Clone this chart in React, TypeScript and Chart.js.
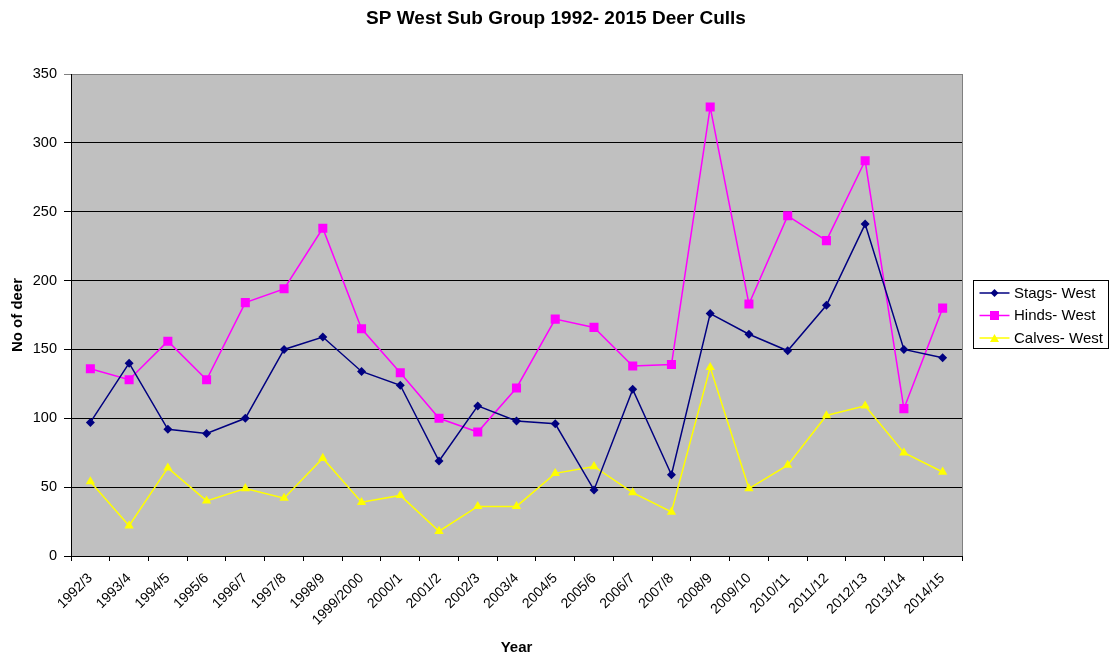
import React, { useEffect, useRef } from "react";
import { Chart, registerables } from "chart.js";

Chart.register(...registerables);

const chartTitle = "SP West Sub Group 1992- 2015 Deer Culls";
const yAxisTitle = "No of deer";
const xAxisTitle = "Year";

const categories = [
  "1992/3", "1993/4", "1994/5", "1995/6", "1996/7", "1997/8", "1998/9",
  "1999/2000", "2000/1", "2001/2", "2002/3", "2003/4", "2004/5", "2005/6",
  "2006/7", "2007/8", "2008/9", "2009/10", "2010/11", "2011/12", "2012/13",
  "2013/14", "2014/15",
];

const stags = [97, 140, 92, 89, 100, 150, 159, 134, 124, 69, 109, 98, 96, 48, 121, 59, 176, 161, 149, 182, 241, 150, 144];
const hinds = [136, 128, 156, 128, 184, 194, 238, 165, 133, 100, 90, 122, 172, 166, 138, 139, 326, 183, 247, 229, 287, 107, 180];
const calves = [54, 22, 64, 40, 49, 42, 71, 39, 44, 18, 36, 36, 60, 65, 46, 32, 137, 49, 66, 102, 109, 75, 61];

const seriesNames = ["Stags- West", "Hinds- West", "Calves- West"];
const seriesColors = ["#000080", "#FF00FF", "#FFFF00"];
const seriesShapes = ["rectRot", "rect", "triangle"];

const yMin = 0;
const yMax = 350;
const yStep = 50;

const FONT = "'Liberation Sans', Arial, Helvetica, sans-serif";

function drawMarker(ctx: CanvasRenderingContext2D, shape: string, x: number, y: number, color: string) {
  ctx.save();
  ctx.fillStyle = color;
  ctx.beginPath();
  if (shape === "rectRot") {
    const r = 4;
    ctx.moveTo(x, y - r);
    ctx.lineTo(x + r, y);
    ctx.lineTo(x, y + r);
    ctx.lineTo(x - r, y);
    ctx.closePath();
  } else if (shape === "rect") {
    const h = 4.5;
    ctx.rect(x - h, y - h, 2 * h, 2 * h);
  } else {
    const w = 4.5;
    const h = 4;
    ctx.moveTo(x, y - h);
    ctx.lineTo(x + w, y + h);
    ctx.lineTo(x - w, y + h);
    ctx.closePath();
  }
  ctx.fill();
  ctx.restore();
}

const plotBackground = {
  id: "plotBackground",
  beforeDraw(chart: any) {
    const { ctx, chartArea } = chart;
    ctx.save();
    ctx.fillStyle = "#C0C0C0";
    ctx.fillRect(chartArea.left, chartArea.top, chartArea.right - chartArea.left, chartArea.bottom - chartArea.top);
    ctx.restore();
  },
  beforeDatasetsDraw(chart: any) {
    const { ctx, chartArea } = chart;
    ctx.save();
    ctx.strokeStyle = "#808080";
    ctx.lineWidth = 1;
    ctx.beginPath();
    const x = Math.round(chartArea.right) + 0.5;
    ctx.moveTo(x, chartArea.top);
    ctx.lineTo(x, chartArea.bottom);
    ctx.stroke();
    ctx.restore();
  },
};

const pageTitle = {
  id: "pageTitle",
  afterDraw(chart: any) {
    const { ctx, width } = chart;
    ctx.save();
    ctx.fillStyle = "#000000";
    ctx.font = `bold 19px ${FONT}`;
    ctx.textAlign = "center";
    ctx.textBaseline = "middle";
    ctx.fillText(chartTitle, width / 2, 19);
    ctx.restore();
  },
};

const boxedLegend = {
  id: "boxedLegend",
  afterDraw(chart: any) {
    const { ctx } = chart;
    const left = 973.5;
    const top = 280.5;
    const width = 135;
    const height = 68;
    ctx.save();
    ctx.fillStyle = "#FFFFFF";
    ctx.fillRect(left, top, width, height);
    ctx.strokeStyle = "#000000";
    ctx.lineWidth = 1;
    ctx.strokeRect(left, top, width, height);
    const rows = [293, 315.5, 338];
    seriesNames.forEach((name, i) => {
      const y = rows[i];
      ctx.strokeStyle = seriesColors[i];
      ctx.lineWidth = 1.5;
      ctx.beginPath();
      ctx.moveTo(979.5, y);
      ctx.lineTo(1009.5, y);
      ctx.stroke();
      drawMarker(ctx, seriesShapes[i], 994.5, y, seriesColors[i]);
      ctx.fillStyle = "#000000";
      ctx.font = `15px ${FONT}`;
      ctx.textAlign = "left";
      ctx.textBaseline = "middle";
      ctx.fillText(name, 1014, y + 0.5);
    });
    ctx.restore();
  },
};

export default function App() {
  const canvasRef = useRef<HTMLCanvasElement | null>(null);

  useEffect(() => {
    if (!canvasRef.current) return;
    Chart.defaults.font.family = FONT;
    Chart.defaults.color = "#000000";

    const makeDataset = (i: number, data: number[]) => ({
      label: seriesNames[i],
      data,
      borderColor: seriesColors[i],
      backgroundColor: seriesColors[i],
      borderWidth: 1.5,
      pointStyle: seriesShapes[i],
      pointRadius: i === 0 ? 4.5 : i === 1 ? 6.4 : 5.4,
      pointHoverRadius: i === 0 ? 4.5 : i === 1 ? 6.4 : 5.4,
      pointBorderWidth: 0,
      pointBackgroundColor: seriesColors[i],
      pointBorderColor: seriesColors[i],
      tension: 0,
      fill: false,
    });

    const chart = new Chart(canvasRef.current, {
      type: "line",
      data: {
        labels: categories,
        datasets: [makeDataset(0, stags), makeDataset(1, hinds), makeDataset(2, calves)],
      },
      options: {
        responsive: false,
        animation: false,
        devicePixelRatio: 1,
        layout: { padding: { top: 74, right: 150, bottom: 0, left: 0 } },
        plugins: {
          legend: { display: false },
          tooltip: { enabled: false },
          title: { display: false },
        },
        scales: {
          x: {
            type: "category",
            offset: true,
            grid: {
              offset: true,
              drawOnChartArea: false,
              drawTicks: true,
              tickLength: 5,
              color: "#000000",
              lineWidth: 1,
            },
            border: { display: true, color: "#000000", width: 1 },
            ticks: {
              autoSkip: false,
              maxRotation: 45,
              minRotation: 45,
              padding: 9,
              color: "#000000",
              font: { size: 14, family: FONT },
            },
            title: {
              display: true,
              text: xAxisTitle,
              color: "#000000",
              font: { size: 15, weight: "bold", family: FONT, lineHeight: 1.2 },
              padding: { top: 0, bottom: 0 },
            },
            afterFit(scale: any) {
              scale.height = 101;
            },
          },
          y: {
            min: yMin,
            max: yMax,
            grid: {
              drawTicks: true,
              tickLength: 7,
              color: (c: any) => (c.tick && c.tick.value === yMax ? "#808080" : "#000000"),
              lineWidth: 1,
            },
            border: { display: true, color: "#000000", width: 1 },
            ticks: {
              stepSize: yStep,
              padding: 7,
              color: "#000000",
              font: { size: 14.5, family: FONT },
            },
            title: {
              display: true,
              text: yAxisTitle,
              color: "#000000",
              font: { size: 15, weight: "bold", family: FONT, lineHeight: 1.2 },
              padding: { top: 9, bottom: 0 },
            },
            afterFit(scale: any) {
              scale.width = 71;
            },
          },
        },
      },
      plugins: [plotBackground, pageTitle, boxedLegend],
    } as any);

    return () => {
      chart.destroy();
    };
  }, []);

  return (
    <div style={{ position: "absolute", left: 0, top: 0, width: 1112, height: 657, background: "#FFFFFF" }}>
      <canvas ref={canvasRef} width={1112} height={657} style={{ width: 1112, height: 657, display: "block" }} />
    </div>
  );
}
